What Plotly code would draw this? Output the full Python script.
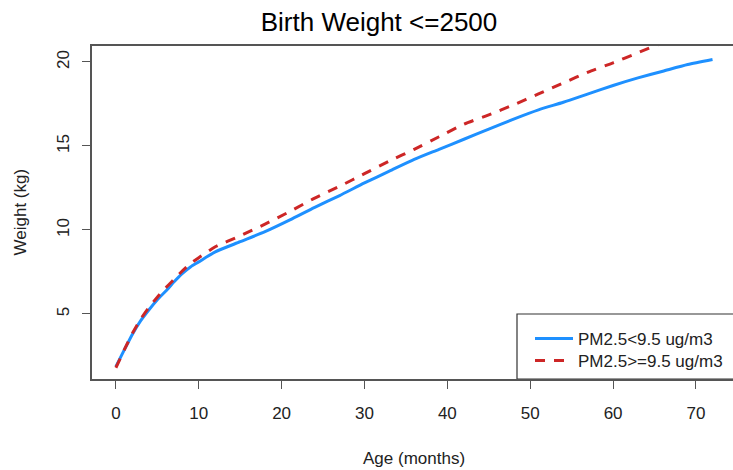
import plotly.graph_objects as go

# Mean weight by age for low birth-weight children, split by PM2.5 exposure
age_months = [0, 1, 2, 3, 4, 5, 6, 7, 8, 9, 10, 12, 15, 18, 21, 24, 27, 30,
              33, 36, 39, 42, 45, 48, 51, 54, 57, 60, 63, 66, 69, 72]
weight_low_pm = [1.87, 2.85, 3.8, 4.6, 5.25, 5.85, 6.35, 6.9, 7.4, 7.8, 8.1,
                 8.7, 9.3, 9.9, 10.6, 11.35, 12.05, 12.8, 13.5, 14.2, 14.8,
                 15.4, 16.0, 16.6, 17.15, 17.6, 18.1, 18.6, 19.05, 19.45,
                 19.85, 20.15]
weight_high_pm = [1.8, 2.85, 3.85, 4.7, 5.4, 6.0, 6.55, 7.05, 7.55, 8.0, 8.35,
                  9.0, 9.65, 10.35, 11.1, 11.9, 12.6, 13.35, 14.1, 14.8, 15.55,
                  16.3, 16.85, 17.45, 18.1, 18.75, 19.4, 19.95, 20.55, 21.15,
                  21.75, 22.3]
series_names = ["PM2.5<9.5 ug/m3", "PM2.5>=9.5 ug/m3"]
x_ticks = [0, 10, 20, 30, 40, 50, 60, 70]
y_ticks = [5, 10, 15, 20]

FONT = "Liberation Sans, Arial, sans-serif"
INK = "#222222"
FRAME = "#555555"

# plot area in pixels: left 92, right 733, top 46, bottom 379
PL, PR, PT, PB = 92, 733, 46, 379


def px_x(p):
    return (p - PL) / (PR - PL)


def px_y(p):
    return (PB - p) / (PB - PT)


fig = go.Figure()
fig.add_trace(go.Scatter(
    x=age_months, y=weight_low_pm, mode="lines", name=series_names[0],
    line=dict(color="#1E90FF", width=3, shape="spline", smoothing=0.6),
    legend="legend",
))
fig.add_trace(go.Scatter(
    x=age_months, y=weight_high_pm, mode="lines", name=series_names[1],
    line=dict(color="#CD2626", width=3, dash="10px,9px", shape="spline",
              smoothing=0.6),
    legend="legend2",
))

legend_style = dict(xanchor="left", yanchor="middle", borderwidth=0,
                     bgcolor="rgba(0,0,0,0)", itemwidth=38,
                     font=dict(size=17, color=INK))

fig.update_layout(
    width=733, height=470,
    margin=dict(l=PL, r=733 - PR, t=PT, b=470 - PB),
    paper_bgcolor="white", plot_bgcolor="white",
    font=dict(family=FONT, size=17, color=INK),
    title=dict(text="Birth Weight <=2500", font=dict(size=26, color="black"),
               xref="container", x=379 / 733, xanchor="center",
               yref="container", y=1 - 22 / 470, yanchor="middle"),
    showlegend=True,
    legend=dict(x=px_x(530), y=px_y(339), **legend_style),
    legend2=dict(x=px_x(530), y=px_y(361), **legend_style),
)

# legend frame
fig.add_shape(type="rect", xref="paper", yref="paper",
              x0=px_x(517), x1=px_x(745), y0=0, y1=px_y(314),
              line=dict(color="#333333", width=1.2), fillcolor="white",
              layer="below")

fig.update_xaxes(
    range=[-2.88, 74.47], tickvals=x_ticks, ticks="outside", ticklen=8,
    tickcolor=FRAME, showline=True, linecolor=FRAME, linewidth=1.5,
    mirror=True, showgrid=False, zeroline=False, ticklabelstandoff=10,
)
fig.update_yaxes(
    range=[1.13, 20.95], tickvals=y_ticks, ticks="outside", ticklen=8,
    tickcolor=FRAME, showline=True, linecolor=FRAME, linewidth=1.5,
    mirror=False, showgrid=False, zeroline=False, tickangle=-90,
    ticklabelstandoff=6,
)

fig.add_annotation(text="Age (months)", xref="paper", yref="paper",
                   x=px_x(414), y=px_y(458),
                   xanchor="center", yanchor="middle", showarrow=False,
                   font=dict(size=17, color=INK))
fig.add_annotation(text="Weight (kg)", xref="paper", yref="paper",
                   x=px_x(20), y=0.5, textangle=-90,
                   xanchor="center", yanchor="middle", showarrow=False,
                   font=dict(size=17, color=INK))

fig.write_html("out.html")
